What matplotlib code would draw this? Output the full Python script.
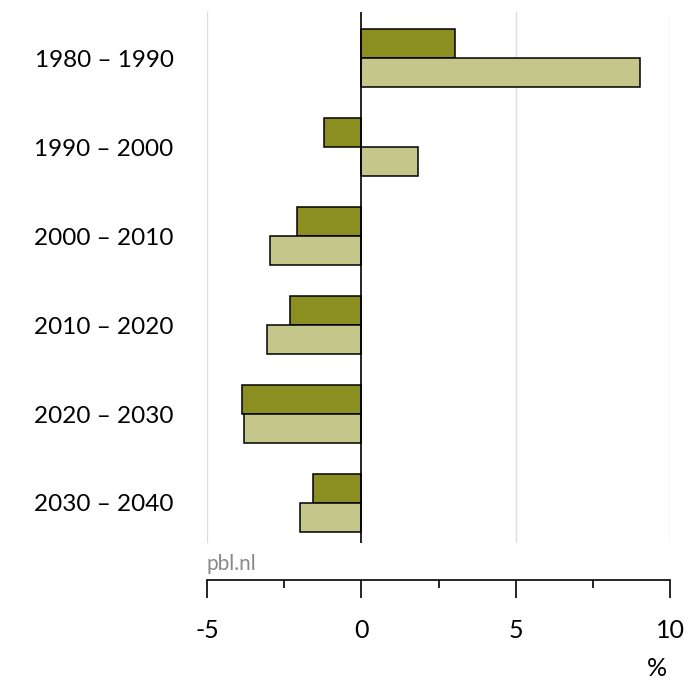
import numpy as np
import matplotlib.pyplot as plt
from matplotlib.ticker import MultipleLocator

periods = ['1980 – 1990', '1990 – 2000', '2000 – 2010', '2010 – 2020', '2020 – 2030', '2030 – 2040']
dark_vals = [3.04, -1.2, -2.07, -2.3, -3.85, -1.55]
light_vals = [9.03, 1.85, -2.95, -3.05, -3.8, -2.0]

plt.rcParams['font.family'] = ['Lato', 'DejaVu Sans']

fig = plt.figure(figsize=(6.88, 6.85), dpi=100)
W, H = 688, 685
ax = fig.add_axes([207 / W, 1 - 543 / H, 463 / W, 531 / H])

y = np.arange(len(periods))
h = 0.325
ax.barh(y - h / 2, dark_vals, height=h, color='#8b8f22', edgecolor='black', linewidth=1.1, zorder=3)
ax.barh(y + h / 2, light_vals, height=h, color='#c5c68a', edgecolor='black', linewidth=1.1, zorder=3)

ax.set_xlim(-5, 10)
ax.set_ylim(5.45, -0.52)
ax.axvline(0, color='black', linewidth=1.2, zorder=4)
for gx in [-5, 5, 10]:
    ax.axvline(gx, color='#dddddd', linewidth=1.0, zorder=1)

ax.set_yticks(y)
ax.set_yticklabels(periods, fontsize=17.5)
ax.tick_params(axis='y', length=0, pad=24)

for s in ['top', 'right', 'left']:
    ax.spines[s].set_visible(False)
ax.spines['bottom'].set_position(('outward', 26.6))
ax.spines['bottom'].set_linewidth(1.2)
ax.set_xticks([-5, 0, 5, 10])
ax.xaxis.set_minor_locator(MultipleLocator(2.5))
ax.tick_params(axis='x', which='major', length=13, width=1.2, labelsize=18, pad=15)
ax.tick_params(axis='x', which='minor', length=6, width=1.2)
ax.set_xticklabels(['-5', '0', '5', '10'])

fig.text(207 / W, 1 - 564 / H, 'pbl.nl', fontsize=15, color='#888888', ha='left', va='center')
fig.text(657 / W, 1 - 669 / H, '%', fontsize=18, color='black', ha='center', va='center')

fig.savefig('out.png', dpi=100)
